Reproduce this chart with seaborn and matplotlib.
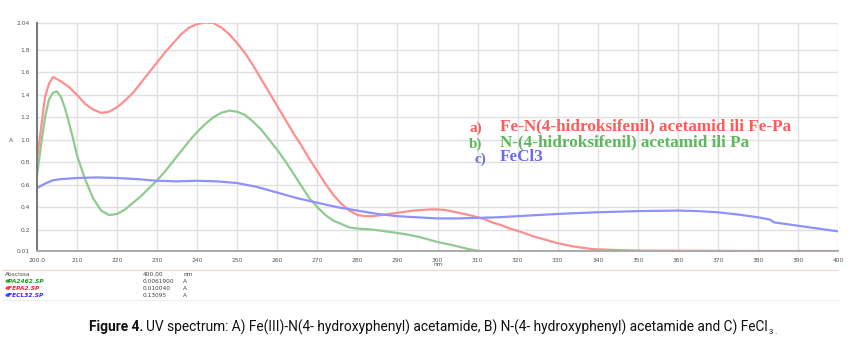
import matplotlib
matplotlib.use("Agg")
import matplotlib.pyplot as plt
import seaborn as sns
import pandas as pd
import numpy as np

# ---------------- data ----------------
red_nm = [200, 201, 202, 203, 204, 205, 206, 208, 210, 212, 214, 216, 218, 220, 222, 224, 226, 228,
          230, 232, 234, 236, 238, 240, 242, 244, 246, 248, 250, 252, 254, 256, 258, 260, 262, 264,
          266, 268, 270, 272, 274, 276, 278, 280, 282, 284, 286, 288, 290, 292, 294, 296, 298, 300,
          302, 304, 306, 308, 310, 312, 314, 316, 318, 320, 322, 324, 326, 328, 330, 332, 334, 336,
          338, 340, 345, 350, 360, 370, 380, 390, 400]
red_a = [0.82, 1.10, 1.38, 1.50, 1.56, 1.54, 1.52, 1.47, 1.40, 1.32, 1.27, 1.24, 1.25, 1.29, 1.35,
         1.42, 1.51, 1.60, 1.69, 1.78, 1.86, 1.94, 2.00, 2.03, 2.045, 2.04, 2.00, 1.94, 1.86, 1.77,
         1.66, 1.54, 1.42, 1.30, 1.18, 1.06, 0.95, 0.83, 0.72, 0.61, 0.51, 0.43, 0.37, 0.33, 0.32,
         0.32, 0.33, 0.34, 0.35, 0.36, 0.37, 0.375, 0.38, 0.38, 0.375, 0.36, 0.345, 0.33, 0.31,
         0.29, 0.26, 0.24, 0.21, 0.19, 0.165, 0.14, 0.12, 0.10, 0.08, 0.065, 0.05, 0.04, 0.03,
         0.025, 0.018, 0.014, 0.012, 0.011, 0.010, 0.010, 0.010]

green_nm = [200, 201, 202, 203, 204, 205, 206, 207, 208, 209, 210, 212, 214, 216, 218, 220, 222, 224,
            226, 228, 230, 232, 234, 236, 238, 240, 242, 244, 246, 248, 250, 252, 254, 256, 258, 260,
            262, 264, 266, 268, 270, 272, 274, 276, 278, 280, 284, 288, 292, 296, 300, 304, 308, 311,
            314]
green_a = [0.68, 0.95, 1.20, 1.36, 1.42, 1.43, 1.38, 1.28, 1.15, 1.01, 0.86, 0.65, 0.48, 0.37, 0.33,
           0.34, 0.38, 0.44, 0.50, 0.57, 0.64, 0.72, 0.81, 0.90, 0.99, 1.07, 1.14, 1.20, 1.24, 1.26,
           1.25, 1.22, 1.16, 1.09, 1.00, 0.91, 0.81, 0.70, 0.59, 0.48, 0.40, 0.33, 0.28, 0.25, 0.22,
           0.21, 0.20, 0.18, 0.16, 0.13, 0.09, 0.06, 0.025, 0.008, 0.008]

blue_nm = [200, 202, 204, 206, 210, 215, 220, 225, 230, 235, 240, 245, 250, 255, 260, 265, 270, 275,
           280, 285, 290, 295, 300, 305, 310, 315, 320, 325, 330, 340, 350, 360, 365, 370, 375, 380,
           383, 384, 390, 395, 400]
blue_a = [0.57, 0.61, 0.64, 0.65, 0.66, 0.665, 0.66, 0.65, 0.635, 0.63, 0.635, 0.63, 0.615, 0.58,
          0.53, 0.48, 0.44, 0.40, 0.37, 0.34, 0.32, 0.31, 0.30, 0.30, 0.305, 0.31, 0.32, 0.33, 0.34,
          0.355, 0.365, 0.37, 0.365, 0.355, 0.335, 0.31, 0.29, 0.265, 0.235, 0.21, 0.185]

series_names = ["Fe-Pa", "Pa", "FeCl3"]
x_ticks = list(range(200, 401, 10))
x_tick_labels = ["200.0"] + [str(v) for v in range(210, 401, 10)]
y_ticks = [0.01, 0.2, 0.4, 0.6, 0.8, 1.0, 1.2, 1.4, 1.6, 1.8, 2.04]
y_tick_labels = ["0.01", "0.2", "0.4", "0.6", "0.8", "1.0", "1.2", "1.4", "1.6", "1.8", "2.04"]

legend_tags = ["a)", "b)", "c)"]
legend_texts = ["Fe-N(4-hidroksifenil) acetamid ili Fe-Pa",
                "N-(4-hidroksifenil) acetamid ili Pa",
                "FeCl3"]
table_names = ["#PA2462.SP", "#FEPA2.SP", "#FECL32.SP"]
table_values = ["0.0061900", "0.010040", "0.13095"]

# ---------------- figure ----------------
W, H = 863, 346
sns.set_style("white")
plt.rcParams['font.family'] = ['DejaVu Sans']
fig = plt.figure(figsize=(W / 100, H / 100), dpi=100)

def fx(px):
    return px / W

def fy(py):
    return 1 - py / H

ax = fig.add_axes([fx(37), fy(251), fx(838) - fx(37), fy(23) - fy(251)])

df = pd.concat([
    pd.DataFrame({"nm": red_nm, "A": red_a, "s": series_names[0]}),
    pd.DataFrame({"nm": green_nm, "A": green_a, "s": series_names[1]}),
    pd.DataFrame({"nm": blue_nm, "A": blue_a, "s": series_names[2]}),
])
palette = {"Fe-Pa": "#ff8f8f", "Pa": "#8fcb8f", "FeCl3": "#9090ff"}
sns.lineplot(data=df, x="nm", y="A", hue="s", palette=palette, ax=ax,
             linewidth=1.6, legend=False, sort=False, estimator=None)

ax.set_xlim(200, 400)
ax.set_ylim(0.01, 2.04)
ax.set_xticks(x_ticks)
ax.set_xticklabels(x_tick_labels, fontsize=4.3, color="#555555")
ax.set_yticks(y_ticks)
ax.set_yticklabels(y_tick_labels, fontsize=4.3, color="#555555")
ax.tick_params(axis="both", length=2, width=0.6, color="#888888", pad=3)
ax.grid(True, color="#e0e0e0", linewidth=1.0)
ax.set_axisbelow(True)
for s in ["top", "right"]:
    ax.spines[s].set_visible(False)
ax.spines["left"].set_color("#777777")
ax.spines["left"].set_linewidth(1.4)
ax.spines["bottom"].set_color("#aaaaaa")
ax.spines["bottom"].set_linewidth(1.4)
ax.set_xlabel("")
ax.set_ylabel("")

# axis labels
fig.text(fx(11), fy(140), "A", fontsize=4.5, color="#555555", ha="center", va="center")
fig.text(fx(438), fy(264), "nm", fontsize=4.3, color="#555555", ha="center", va="center")

# in-plot legend text
leg_colors = ["#ff5a5a", "#5cb85c", "#6a6af0"]
tag_x = [469, 469, 474]
leg_y = [128, 144, 159]
serif = ["Liberation Serif", "DejaVu Serif"]
for tag, txt, c, tx, y in zip(legend_tags, legend_texts, leg_colors, tag_x, leg_y):
    fig.text(fx(tx), fy(y), tag, fontsize=11, color=c, fontweight="bold",
             family=serif, ha="left", va="center")
    fig.text(fx(500), fy(y - 2), txt, fontsize=12.3, color=c, fontweight="bold",
             family=serif, ha="left", va="center")

# table below the chart
line1 = plt.Line2D([fx(2), fx(838)], [fy(270), fy(270)], transform=fig.transFigure,
                   color="#f0d8c8", linewidth=0.8)
line2 = plt.Line2D([fx(2), fx(838)], [fy(300), fy(300)], transform=fig.transFigure,
                   color="#eeeeee", linewidth=0.8)
fig.add_artist(line1)
fig.add_artist(line2)
fig.text(fx(5), fy(274.5), "Abscissa", fontsize=4.2, color="#444444", ha="left", va="center")
fig.text(fx(143), fy(274.5), "400.00", fontsize=4.2, color="#444444", ha="left", va="center")
fig.text(fx(183), fy(274.5), "nm", fontsize=4.2, color="#444444", ha="left", va="center")
tab_colors = ["#1a9a1a", "#ff2020", "#2a2aff"]
for i, (nm_, val, c) in enumerate(zip(table_names, table_values, tab_colors)):
    yy = 281.5 + 7 * i
    fig.text(fx(5), fy(yy), nm_, fontsize=4.2, color=c, fontweight="bold", style="italic",
             ha="left", va="center")
    fig.text(fx(143), fy(yy), val, fontsize=4.2, color="#444444", ha="left", va="center")
    fig.text(fx(183), fy(yy), "A", fontsize=4.2, color="#444444", ha="left", va="center")

# caption
cap_font = ["Roboto", "DejaVu Sans"]
fig.canvas.draw()
r = fig.canvas.get_renderer()
t1 = fig.text(fx(89), fy(327), "Figure 4.", fontsize=9.9, fontweight="bold", family=cap_font,
              ha="left", va="center", color="#111111")
bb = t1.get_window_extent(renderer=r)
t2 = fig.text(bb.x1 / W + fx(3), fy(327),
              "UV spectrum: A) Fe(III)-N(4- hydroxyphenyl) acetamide, B) N-(4- hydroxyphenyl) acetamide and C) FeCl",
              fontsize=9.9, family=cap_font, ha="left", va="center", color="#111111")
bb2 = t2.get_window_extent(renderer=r)
fig.text(bb2.x1 / W + fx(1), fy(332), "3 .", fontsize=5.5, family=cap_font,
         ha="left", va="center", color="#111111")

fig.savefig("out.png", dpi=100)
